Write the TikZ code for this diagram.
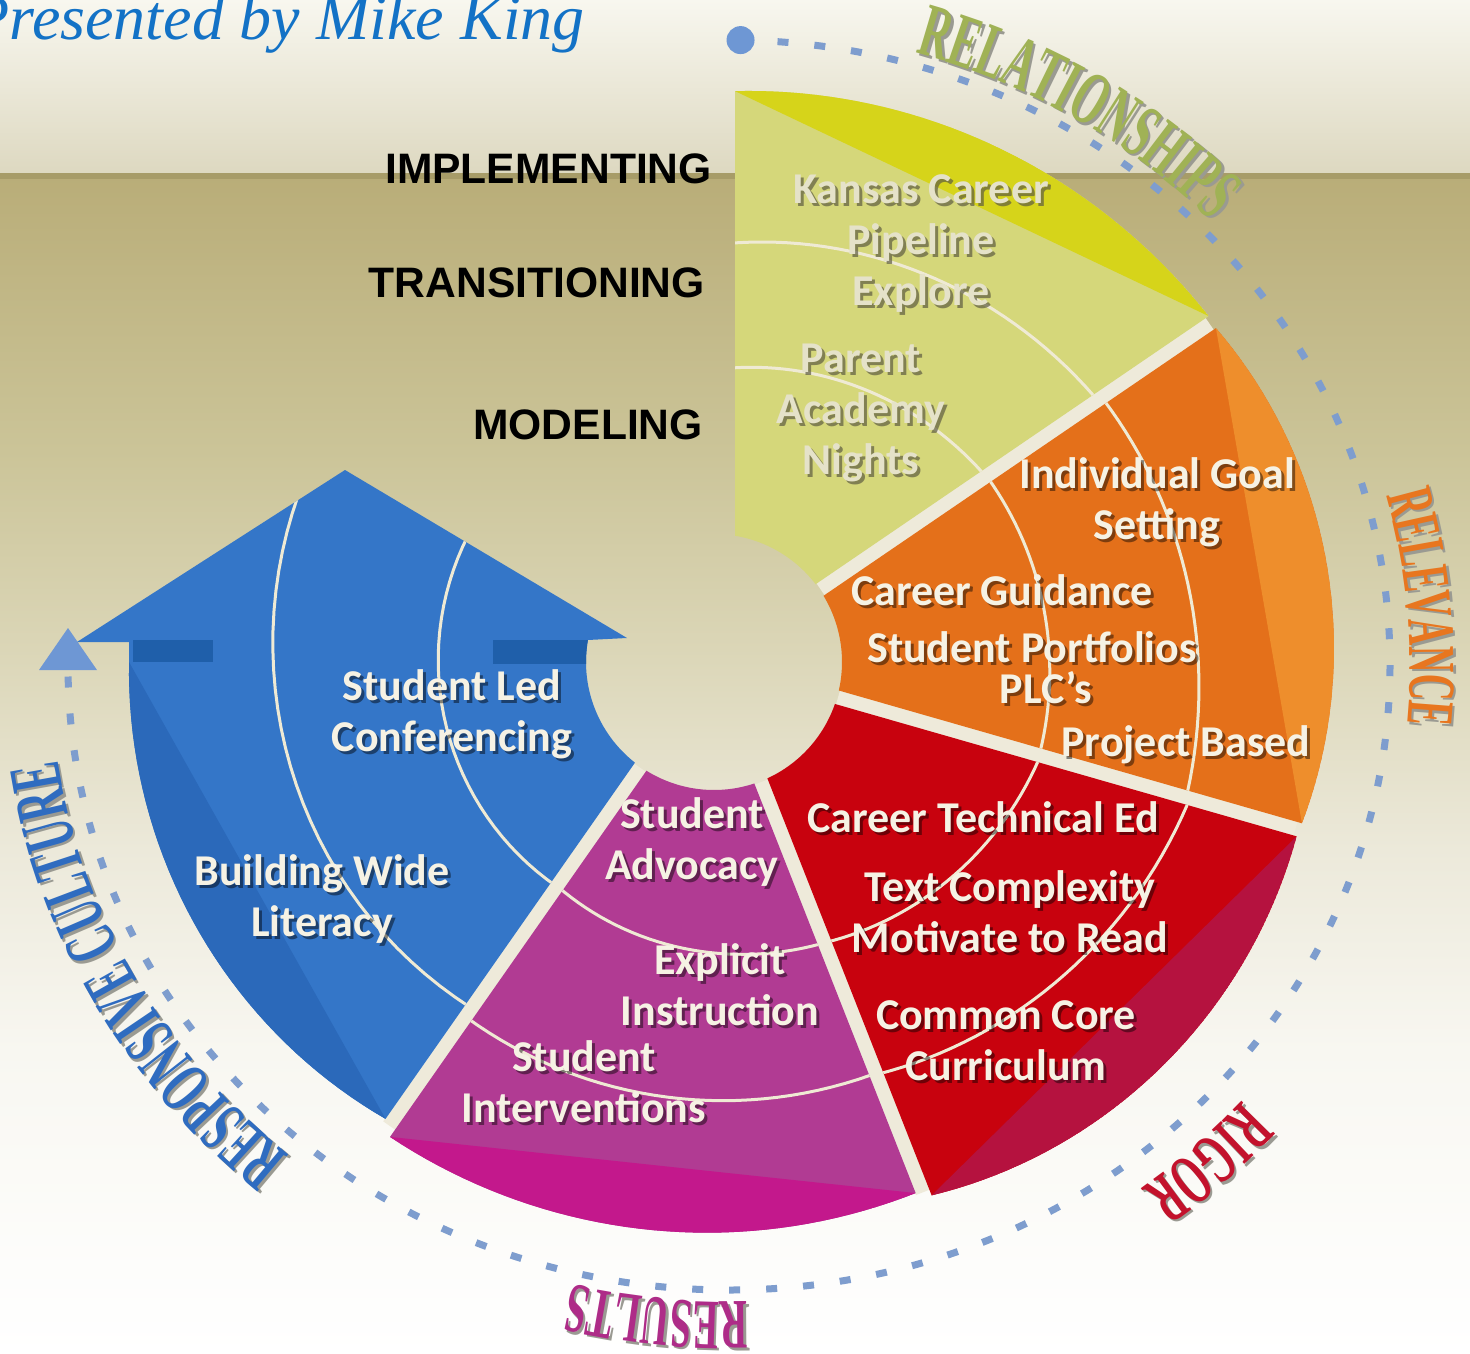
\documentclass[tikz,border=0pt]{standalone}
\usepackage{fontspec}
\setmainfont{Liberation Serif}
\newfontfamily\segfont{Carlito}
\newfontfamily\stagefont{Liberation Sans}
\newfontfamily\ringfont{Liberation Serif}[FakeStretch=0.55]
\usetikzlibrary{decorations.text}

\definecolor{titleblue}{HTML}{1372C6}
\definecolor{bandtop}{HTML}{F8F7EF}
\definecolor{bandbot}{HTML}{DDD8C0}
\definecolor{bandline}{HTML}{A79C68}
\definecolor{bgA}{HTML}{B9AD78}
\definecolor{bgB}{HTML}{CBC498}
\definecolor{bgC}{HTML}{DBD6B7}
\definecolor{bgD}{HTML}{ECE9DA}
\definecolor{bgE}{HTML}{F8F7F1}
\definecolor{gapcream}{HTML}{EEEADA}
\definecolor{yelbase}{HTML}{D5D77A}
\definecolor{yelhi}{HTML}{D6D41A}
\definecolor{orabase}{HTML}{E4701A}
\definecolor{orahi}{HTML}{EE8E2C}
\definecolor{redbase}{HTML}{C8020E}
\definecolor{redhi}{HTML}{B5123F}
\definecolor{magbase}{HTML}{B13B93}
\definecolor{maghi}{HTML}{C3188C}
\definecolor{blubase}{HTML}{3476C8}
\definecolor{bluhi}{HTML}{2B69BA}
\definecolor{blubar}{HTML}{1F5FAA}
\definecolor{ringblue}{HTML}{7E9DCE}
\definecolor{dotblue}{HTML}{6E97D4}
\definecolor{arccream}{HTML}{EFEAD4}
\definecolor{txtcream}{HTML}{F6F2E4}
\definecolor{txtpale}{HTML}{E5E2C9}
\definecolor{paleshadow}{HTML}{5E5C42}
\definecolor{relgreen}{HTML}{A0B255}
\definecolor{relorange}{HTML}{E8761F}
\definecolor{rigred}{HTML}{C3122C}
\definecolor{resmag}{HTML}{AE2C88}
\definecolor{resblue}{HTML}{2F6CC0}
\definecolor{lblshadow}{HTML}{9A9A92}

\pgfdeclareverticalshading{bgfade}{100bp}{color(0bp)=(white); color(25bp)=(white); color(37.9bp)=(bgE); color(46.4bp)=(bgD); color(54.9bp)=(bgC); color(63.3bp)=(bgB); color(75bp)=(bgA); color(100bp)=(bgA)}

% segment geometry
\def\rin{128}
\newcommand\segcalc[7]{%
  \pgfmathsetmacro\sal{#1}\pgfmathsetmacro\sah{#2}%
  \pgfmathsetmacro\sil{#1+asin(#3/\rin)}\pgfmathsetmacro\sih{#2-asin(#4/\rin)}%
  \pgfmathsetmacro\sol{#1+asin(#3/#5)}\pgfmathsetmacro\soh{#2-asin(#4/#6)}%
  \def\sra{#5}\def\srb{#6}\def\sbu{#7}}
\newcommand\segR{\sra+(\srb-(\sra))*(\x-(\sal))/(\sah-(\sal))+4*\sbu*(\x-(\sal))/(\sah-(\sal))*(1-(\x-(\sal))/(\sah-(\sal)))}
\newcommand\segshape{(\sil:\rin pt) -- plot[domain=\sol:\soh,samples=40] (\x:{\segR}) -- (\sih:\rin pt) arc[start angle=\sih,end angle=\sil,radius=\rin pt] -- cycle}
\newcommand\segcap{plot[domain=\sol:\soh,samples=40] (\x:{\segR}) -- cycle}
\newcommand\spiral[4]{plot[domain=#1:#2,samples=40] (\x:{#3+(#4-(#3))*(\x-(#1))/((#2)-(#1))})}

% texts
\newcommand\segtext[4]{%
  \node[segtxt, text=black, opacity=.45] (#1sh) at (#2+3,#3-3) {#4};
  \node[segtxt] (#1) at (#2,#3) {#4};}
\newcommand\paletext[4]{%
  \node[segtxt, text=paleshadow, opacity=.7] (#1sh) at (#2+3,#3-3) {#4};
  \node[segtxt, text=txtpale] (#1) at (#2,#3) {#4};}
\newcommand\ringtext[6]{%
  \pgfmathsetmacro\rtx{661+#2}\pgfmathsetmacro\rty{625+#2}%
  \path[shift={(2.5,-2.5)}, decorate, decoration={text along path, text align=center,
    text={|\ringfont\bfseries\fontsize{#5}{#5}\selectfont\color{lblshadow}|#6}}]
    (#3:\rtx pt and \rty pt) arc[start angle=#3, end angle=#4, x radius=\rtx pt, y radius=\rty pt];
  \path[decorate, decoration={text along path, text align=center,
    text={|\ringfont\bfseries\fontsize{#5}{#5}\selectfont\color{#1}|#6}}]
    (#3:\rtx pt and \rty pt) arc[start angle=#3, end angle=#4, x radius=\rtx pt, y radius=\rty pt];}

\begin{document}
\begin{tikzpicture}[x=1pt, y=1pt,
  stage/.style={font=\stagefont\bfseries\fontsize{42.6}{44}\selectfont, inner sep=0pt, anchor=base east},
  segtxt/.style={font=\segfont\bfseries\fontsize{44}{51}\selectfont, align=center, inner sep=0pt, text=txtcream},
  thinarc/.style={draw=arccream, line width=3pt},
  gapline/.style={draw=gapcream, line width=15pt},
  ringdash/.style={draw=ringblue, line width=7pt, dash pattern=on 11pt off 26pt}
]
\path[use as bounding box] (0,0) rectangle (1470,-1354);
\clip (0,0) rectangle (1470,-1354);

% background
\fill[top color=bandtop, bottom color=bandbot] (0,0) rectangle (1470,-175);
\shade[shading=bgfade] (0,-175) rectangle (1470,-1354);
\fill[bandline] (0,-173) rectangle (1470,-179);

\node[font=\itshape\fontsize{64}{64}\selectfont, text=titleblue, inner sep=0pt, anchor=base east] (title) at (585,-40) {Presented by Mike King};

\node[stage] (implementing) at (712,-183) {IMPLEMENTING};
\node[stage] (transitioning) at (705,-297) {TRANSITIONING};
\node[stage] (modeling) at (703,-439) {MODELING};

% dashed ring and its labels
\begin{scope}[shift={(729,-665)}]
  \coordinate (ringstart) at (89:661pt and 625pt);
  \coordinate (ringend) at (180:661pt and 625pt);
  \draw[ringdash] (ringstart) arc[start angle=89, end angle=-180, x radius=661pt, y radius=625pt];
  \fill[dotblue] (ringstart) circle[radius=14pt];
  \fill[dotblue] ([shift={(0,37)}]ringend) -- ([shift={(-29,-5)}]ringend) -- ([shift={(29,-5)}]ringend) -- cycle;
  \ringtext{relgreen}{12}{76}{42}{76}{RELATIONSHIPS}
  \ringtext{relorange}{20}{19}{-9}{67}{RELEVANCE}
  \ringtext{rigred}{28}{-36}{-59}{72}{RIGOR}
  \ringtext{resmag}{12}{-84}{-108}{71}{RESULTS}
  \ringtext{resblue}{18}{-126}{-176}{74}{RESPONSIVE CULTURE}
\end{scope}

% wheel
\begin{scope}[shift={(714,-662)}]
  % light gaps between the parts
  \draw[gapline] (34.3:129pt) -- (34.3:600pt);
  \draw[gapline] (-16:129pt) -- (-16:605pt);
  \draw[gapline] (-68.5:129pt) -- (-68.5:570pt);
  \draw[gapline] (235:129pt) -- (235:566pt);
  % blue arrow
  \segcalc{180}{235}{0}{7}{585}{562}{8}
  \def\blueshape{(-637,20) -- (-585,20) -- plot[domain=\sol:\soh,samples=40] (\x:{\segR}) -- (\sih:\rin pt) arc[start angle=\sih,end angle=170.1,radius=\rin pt] -- (-87,24) -- (-369,192) -- cycle}
  \fill[blubase] \blueshape;
  \begin{scope}
    \clip \blueshape;
    \fill[bluhi] \segcap;
    \fill[blubar] (-581,22) rectangle (-501,0);
    \fill[blubar] (-221,22) rectangle (-125,-2);
    \draw[thinarc] \spiral{140}{240}{277}{274};
    \draw[thinarc] \spiral{140}{240}{454}{421};
  \end{scope}
  % magenta
  \segcalc{235}{291.5}{7}{7}{575}{568}{0}
  \fill[magbase] \segshape;
  \begin{scope}
    \clip \segshape;
    \fill[maghi] \segcap;
    \draw[thinarc] \spiral{228}{298}{270}{305};
    \draw[thinarc] \spiral{228}{298}{432}{443};
  \end{scope}
  % red
  \segcalc{-68.5}{-16}{7}{7}{575}{608}{12}
  \fill[redbase] \segshape;
  \begin{scope}
    \clip \segshape;
    \fill[redhi] \segcap;
    \draw[thinarc] \spiral{-75}{-10}{297}{344};
    \draw[thinarc] \spiral{-75}{-10}{437}{501};
  \end{scope}
  % orange
  \segcalc{-16}{34.3}{7}{7}{609}{602}{15}
  \fill[orabase] \segshape;
  \begin{scope}
    \clip \segshape;
    \fill[orahi] \segcap;
    \draw[thinarc] \spiral{-20}{40}{339}{329};
    \draw[thinarc] \spiral{-20}{40}{493}{467};
  \end{scope}
  % yellow
  \segcalc{34.3}{90}{7}{21}{604}{570}{0}
  \fill[yelbase] \segshape;
  \begin{scope}
    \clip \segshape;
    \fill[yelhi] \segcap;
    \draw[thinarc] \spiral{30}{95}{332}{289};
    \draw[thinarc] \spiral{30}{95}{468}{413};
  \end{scope}
\end{scope}

% segment texts
\paletext{kansas}{921}{-244}{Kansas Career\\Pipeline\\Explore}
\paletext{parent}{861}{-413}{Parent\\Academy\\Nights}
\segtext{goal}{1157}{-502}{Individual Goal\\Setting}
\segtext{guidance}{1002}{-590}{Career Guidance}
\segtext{portfolios}{1032}{-647}{Student Portfolios}
\segtext{plc}{1046}{-688}{PLC’s}
\segtext{project}{1186}{-745}{Project Based}
\segtext{cte}{983}{-817}{Career Technical Ed}
\segtext{complexity}{1010}{-912}{Text Complexity\\Motivate to Read}
\segtext{core}{1006}{-1041}{Common Core\\Curriculum}
\segtext{advocacy}{692}{-842}{Student\\Advocacy}
\segtext{explicit}{720}{-985}{Explicit\\Instruction}
\segtext{interventions}{584}{-1082}{Student\\Interventions}
\segtext{conferencing}{452}{-714}{Student Led\\Conferencing}
\segtext{literacy}{322}{-899}{Building Wide\\Literacy}
\end{tikzpicture}
\end{document}
